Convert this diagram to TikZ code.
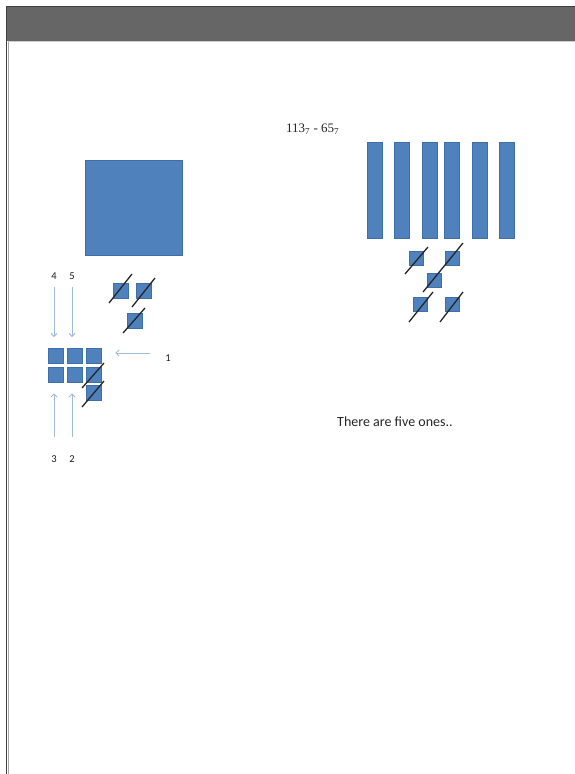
\documentclass[tikz,border=0pt]{standalone}
\usepackage{fontspec}
\setmainfont{Carlito}
\newfontfamily\exprfont{Liberation Serif}
\usetikzlibrary{arrows.meta}
\definecolor{ublue}{HTML}{4F81BD}
\definecolor{ubord}{HTML}{3F6FA8}
\definecolor{arrc}{HTML}{A3BBDA}
\definecolor{hdr}{HTML}{666666}
\tikzset{
  unit/.style={fill=ublue, draw=ubord, line width=0.4pt, minimum size=15pt, inner sep=0pt, anchor=north west},
  bar/.style={fill=ublue, draw=ubord, line width=0.4pt, minimum width=15pt, minimum height=96pt, inner sep=0pt, anchor=north west},
  bigsq/.style={fill=ublue, draw=ubord, line width=0.4pt, minimum width=97pt, minimum height=95pt, inner sep=0pt, anchor=north west},
  strike/.style={draw=black!85, line width=1.3pt},
  arrowc/.style={draw=arrc, line width=0.9pt, -{Straight Barb[length=3pt,width=6pt]}},
  numlbl/.style={font=\fontsize{10.5}{12}\selectfont, text=black!90, inner sep=1pt},
}
\begin{document}
\begin{tikzpicture}[x=1pt,y=-1pt]
\useasboundingbox (0,0) rectangle (575,774);
\fill[white] (0,0) rectangle (575,774);
% page frame and header
\fill[hdr] (7,7) rectangle (575,41);
\draw[black!20, line width=1pt] (8,41.5) -- (575,41.5);
\draw[black!75, line width=1.4pt] (575,6.5) -- (6.5,6.5) -- (6.5,774);
\draw[black!35, line width=0.8pt] (8.3,42) -- (8.3,774);

% big hundred square
\node[bigsq] (hund) at (85,160) {};

% three crossed ones
\node[unit] (u1) at (113,283) {};
\node[unit] (u2) at (136,283) {};
\node[unit] (u3) at (127,313) {};
\draw[strike] (109,303) -- (132,274);
\draw[strike] (132,307) -- (155,278);
\draw[strike] (123,333) -- (145,308);

% grid of ones
\node[unit] (g11) at (48,348) {};
\node[unit] (g12) at (67,348) {};
\node[unit] (g13) at (86,348) {};
\node[unit] (g21) at (48,367) {};
\node[unit] (g22) at (67,367) {};
\node[unit] (g23) at (86,367) {};
\node[unit] (g33) at (86,385) {};
\draw[strike] (82,388) -- (104,363);
\draw[strike] (82,407) -- (104,381);

% labels and arrows
\node[numlbl] (n4) at (54,276) {4};
\node[numlbl] (n5) at (72,276) {5};
\node[numlbl] (n3) at (54,459) {3};
\node[numlbl] (n2) at (72,459) {2};
\node[numlbl] (n1) at (168,358) {1};
\draw[arrowc, shorten <=6pt, shorten >=11pt] (n4.south) -- (n4.south |- g11.north);
\draw[arrowc, shorten <=6pt, shorten >=11pt] (n5.south) -- (n5.south |- g12.north);
\draw[arrowc, shorten <=17pt, shorten >=11pt] (n3.north) -- (n3.north |- g21.south);
\draw[arrowc, shorten <=17pt, shorten >=11pt] (n2.north) -- (n2.north |- g22.south);
\draw[arrowc, shorten <=14pt, shorten >=14pt] ([yshift=5pt]n1.west) -- ([yshift=5pt]n1.west -| g13.east);

% right side
\node[font=\exprfont\fontsize{13}{15}\selectfont, text=black!85, inner sep=0pt, anchor=west] (expr) at (286,129) {113\textsubscript{7} - 65\textsubscript{7}};
\node[bar] (b1) at (367,142) {};
\node[bar] (b2) at (394,142) {};
\node[bar] (b3) at (422,142) {};
\node[bar] (b4) at (444,142) {};
\node[bar] (b5) at (472,142) {};
\node[bar] (b6) at (499,142) {};

\node[unit, minimum size=14pt] (r1) at (409,251) {};
\node[unit, minimum size=14pt] (r2) at (445,251) {};
\node[unit, minimum size=14pt] (r3) at (427,273) {};
\node[unit, minimum size=14pt] (r4) at (413,297) {};
\node[unit, minimum size=14pt] (r5) at (445,297) {};
\draw[strike] (405,274) -- (428,247);
\draw[strike] (423,292) -- (463,243);
\draw[strike] (409,322) -- (433,292);
\draw[strike] (440,322) -- (463,292);

\node[font=\fontsize{14}{16}\selectfont, text=black!85, inner sep=0pt, anchor=west] (txt) at (337,422) {There are five ones..};
\end{tikzpicture}
\end{document}
